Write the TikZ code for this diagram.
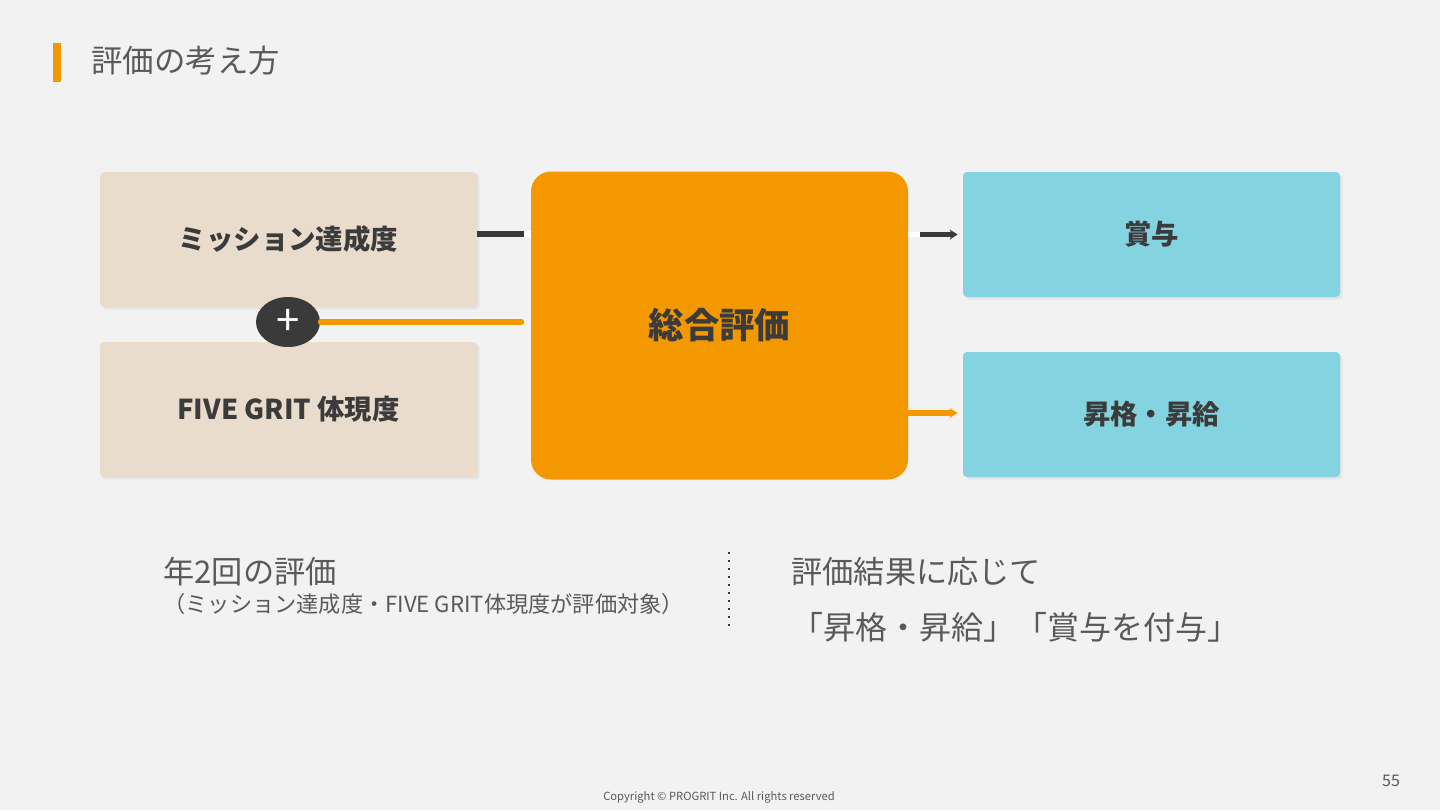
\documentclass[tikz,border=0pt]{standalone}
\usepackage{fontspec}
\setmainfont{Noto Sans CJK JP}
\usepackage{tikz}
\usetikzlibrary{shapes.geometric,arrows.meta,positioning,calc,shadows}
\usepackage{xcolor}
\definecolor{bgray}{HTML}{F2F2F2}
\definecolor{ink}{HTML}{3B3B3B}
\definecolor{softink}{HTML}{595959}
\definecolor{orange}{HTML}{F39800}
\definecolor{beige}{HTML}{EADCCD}
\definecolor{cyan}{HTML}{84D3E0}
\definecolor{charcoal}{HTML}{3A3A3A}

\begin{document}
\begin{tikzpicture}[x=0.5pt, y=-0.5pt, >=Stealth,
  card/.style={rectangle, rounded corners=2pt, inner sep=0pt, minimum width=188.5pt,
    drop shadow={opacity=0.12, shadow xshift=1.2pt, shadow yshift=-1.2pt},
    font=\fontsize{13.7pt}{16pt}\selectfont\bfseries, text=ink},
  link/.style={line width=2.6pt},
  body/.style={anchor=west, inner sep=0pt, text=softink}]
  % background and frame
  \fill[bgray] (0,0) rectangle (1440,810);
  \useasboundingbox (0,0) rectangle (1440,810);

  % title
  \fill[orange] (53,43) rectangle (61,82);
  \node[body, font=\fontsize{15.7pt}{18pt}\selectfont] (title) at (91,61) {評価の考え方};

  % boxes
  \node[card, fill=beige, minimum height=67.5pt] (mission) at (288.5,239.5) {ミッション達成度};
  \node[card, fill=beige, minimum height=67.5pt] (grit) at (288.5,409.5) {FIVE GRIT 体現度};
  \node[rectangle, rounded corners=10pt, fill=orange, minimum width=188.5pt, minimum height=154pt,
    font=\fontsize{17.7pt}{20pt}\selectfont\bfseries, text=ink] (total) at (719.5,325.5) {総合評価};
  \node[card, fill=cyan, minimum height=62.5pt] (bonus) at (1151.5,234.5) {賞与};
  \node[card, fill=cyan, minimum height=62.5pt] (promo) at (1151.5,414.5) {昇格・昇給};

  % plus
  \node[ellipse, fill=charcoal, minimum width=32pt, minimum height=25pt, inner sep=0pt,
    text=white, font=\fontsize{21pt}{21pt}\selectfont] (plus) at (288,322) {+};

  % connectors
  \draw[link, charcoal, shorten >=3.5pt] ($(mission.east)+(0,-5.5)$) -- ($(mission.east -| total.west)+(0,-5.5)$);
  \draw[link, white] ($(mission.east -| total.west)+(-7,-5.5)$) -- ($(mission.east -| total.west)+(0,-5.5)$);
  \draw[link, orange, line cap=round, shorten >=4.5pt] (plus.east) -- (plus.east -| total.west);
  \draw[link, white] (total.east |- bonus.west) -- ($(total.east |- bonus.west)+(12,0)$);
  \draw[link, charcoal, -{Stealth[length=4pt,width=5pt]}, shorten <=6pt, shorten >=2.5pt] (total.east |- bonus.west) -- (bonus.west);
  \draw[link, orange, -{Stealth[length=4pt,width=5pt]}, shorten >=2.5pt] ($(total.east |- promo.west)+(0,-1.5)$) -- ($(promo.west)+(0,-1.5)$);

  % bottom notes
  \node[body, font=\fontsize{15.6pt}{18pt}\selectfont] (twice) at (163,572) {年2回の評価};
  \node[body, font=\fontsize{11.1pt}{13pt}\selectfont] (target) at (163,604) {（ミッション達成度・FIVE GRIT体現度が評価対象）};
  \coordinate (d1) at (729,552);
  \coordinate (d2) at (729,632);
  \draw[charcoal, line width=1.1pt, dash pattern=on 1pt off 3pt] (d1) -- (d2);
  \node[body, font=\fontsize{15.6pt}{18pt}\selectfont] (result) at (791,572) {評価結果に応じて};
  \node[body, font=\fontsize{16pt}{18pt}\selectfont] (reward) at (791,627) {「昇格・昇給」「賞与を付与」};

  % footer
  \node[text=softink, font=\fontsize{5.6pt}{7pt}\selectfont] (copy) at (719,797) {Copyright © PROGRIT Inc. All rights reserved};
  \node[text=softink, font=\fontsize{8pt}{9pt}\selectfont] (page) at (1391,781) {55};
\end{tikzpicture}
\end{document}
